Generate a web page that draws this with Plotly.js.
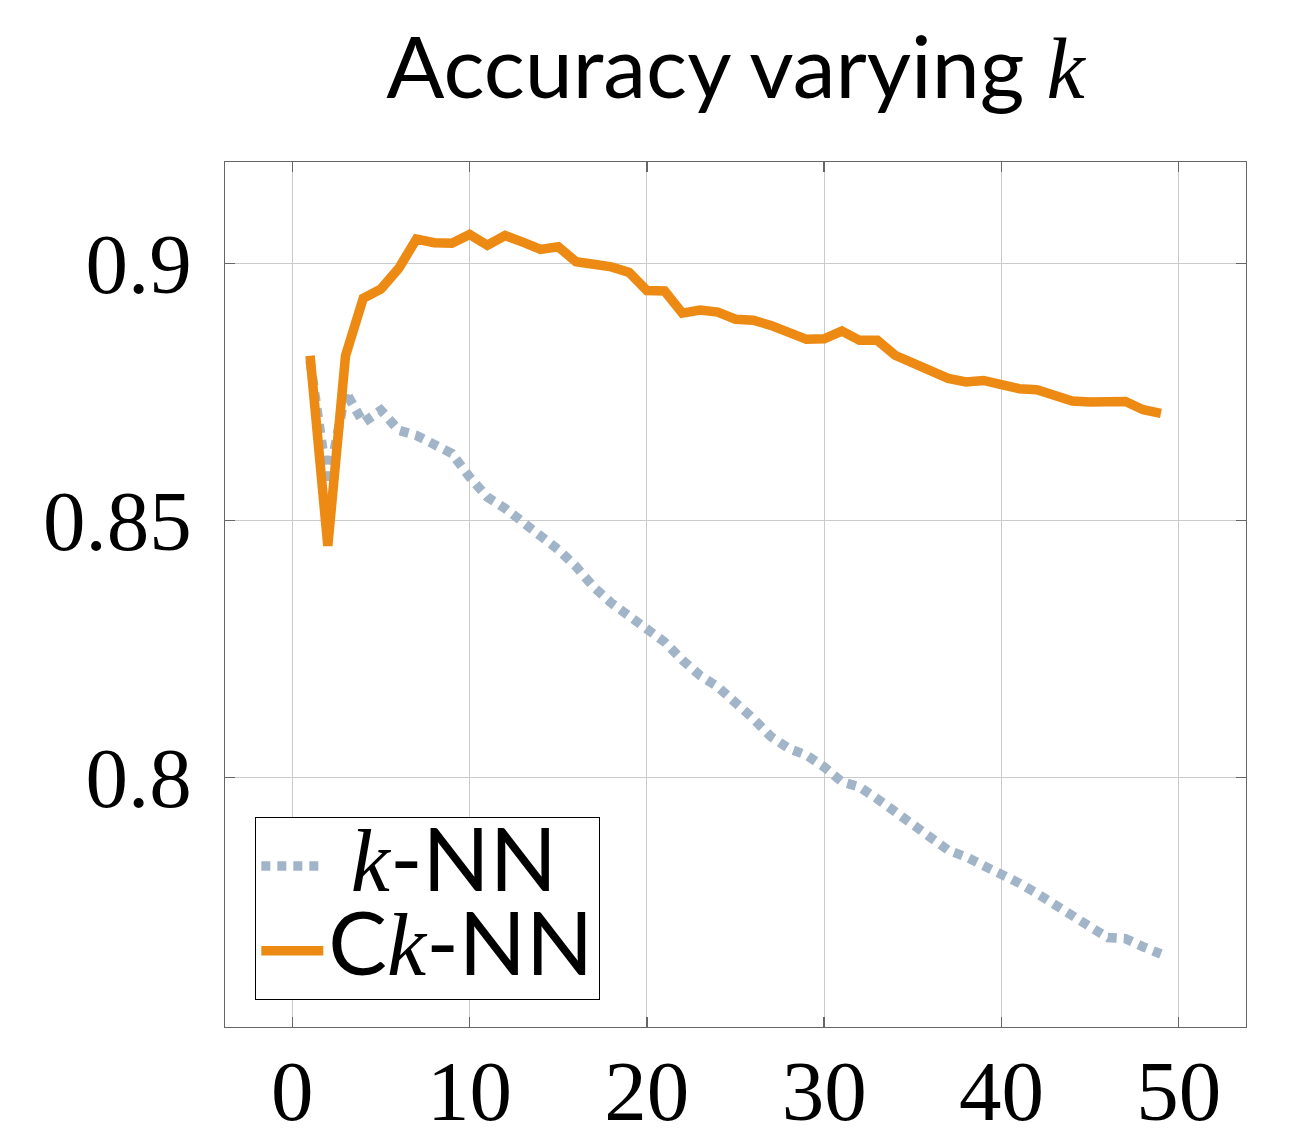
<!DOCTYPE html>
<html>
<head>
<meta charset="utf-8">
<script src="https://cdn.plot.ly/plotly-3.0.1.min.js"></script>
<style>html,body{margin:0;padding:0;background:#fff;}#chart{width:1289px;height:1129px;}</style>
</head>
<body>
<div id="chart"></div>
<script>
const kValues = [1,2,3,4,5,6,7,8,9,10,11,12,13,14,15,16,17,18,19,20,21,22,23,24,25,26,27,28,29,30,31,32,33,34,35,36,37,38,39,40,41,42,43,44,45,46,47,48,49];
const knnAccuracy = [0.881,0.857,0.875,0.869,0.8714,0.8675,0.8665,0.8646,0.8630,0.8584,0.8545,0.8523,0.8498,0.8468,0.8443,0.8410,0.8370,0.8339,0.8315,0.8292,0.8263,0.8228,0.8198,0.8176,0.8147,0.8114,0.8079,0.8056,0.8043,0.8020,0.7991,0.7981,0.7958,0.7933,0.7910,0.7884,0.7858,0.7845,0.7829,0.7813,0.7794,0.7774,0.7754,0.7731,0.7709,0.7688,0.7686,0.7670,0.7656];
const cknnAccuracy = [0.882,0.845,0.882,0.8932,0.895,0.899,0.9047,0.904,0.9039,0.9056,0.9035,0.9054,0.9041,0.9027,0.9032,0.9003,0.8998,0.8993,0.8982,0.8947,0.8946,0.8903,0.8909,0.8905,0.8891,0.8889,0.8879,0.8864,0.8852,0.8853,0.8868,0.8850,0.8850,0.8821,0.8807,0.8790,0.8776,0.8769,0.8772,0.8764,0.8756,0.8754,0.8745,0.8732,0.8730,0.8730,0.8731,0.8715,0.8708];
const xTicks = [0,10,20,30,40,50];
const yTicks = [0.8,0.85,0.9];
const yTickLabels = ['0.8','0.85','0.9'];
const seriesNames = ['k-NN','Ck-NN'];

const serif = "'Liberation Serif', 'DejaVu Serif', serif";
const sans = "Lato, 'Liberation Sans', sans-serif";
const kMath = '<span style="font-family:' + "Liberation Serif" + '"><i>k</i></span>';

const traces = [
  {
    x: kValues, y: knnAccuracy, type: 'scatter', mode: 'lines',
    name: '<span style="font-size:88px">\u00a0' + kMath + '-NN</span>',
    line: {color: '#a2b4c8', width: 9.5, dash: '9px,7px'}
  },
  {
    x: kValues, y: cknnAccuracy, type: 'scatter', mode: 'lines',
    name: '<span style="font-size:88px">C' + kMath + '-NN</span>',
    line: {color: '#ec8a13', width: 9.5}
  }
];

const axisCommon = {
  showgrid: true, gridcolor: '#cbcbcb', gridwidth: 1,
  showline: true, linecolor: '#666666', linewidth: 1.3, mirror: 'ticks',
  ticks: 'inside', ticklen: 10, tickwidth: 1.3, tickcolor: '#666666',
  zeroline: false,
  tickfont: {family: serif, size: 85, color: '#000'}
};

const layout = {
  width: 1289, height: 1129,
  margin: {l: 225, r: 43, t: 162, b: 102},
  paper_bgcolor: '#fff', plot_bgcolor: '#fff',
  showlegend: true,
  title: {
    text: 'Accuracy varying ' + kMath,
    font: {family: sans, size: 86, color: '#000'},
    x: 0.5, xref: 'paper', xanchor: 'center',
    y: 0.94, yref: 'container', yanchor: 'middle'
  },
  xaxis: Object.assign({}, axisCommon, {
    range: [-3.8, 53.8], tickmode: 'array', tickvals: xTicks,
    ticklabelstandoff: -10
  }),
  yaxis: Object.assign({}, axisCommon, {
    range: [0.7514, 0.9197], tickmode: 'array', tickvals: yTicks, ticktext: yTickLabels,
    ticklabelstandoff: 15
  }),
  legend: {
    x: 0.0294, y: 0.031, xanchor: 'left', yanchor: 'bottom',
    bgcolor: '#fff', bordercolor: '#000', borderwidth: 1.3,
    font: {family: sans, size: 63, color: '#000'},
    itemwidth: 62
  }
};

Plotly.newPlot('chart', traces, layout, {displayModeBar: false, staticPlot: true});
</script>
</body>
</html>
